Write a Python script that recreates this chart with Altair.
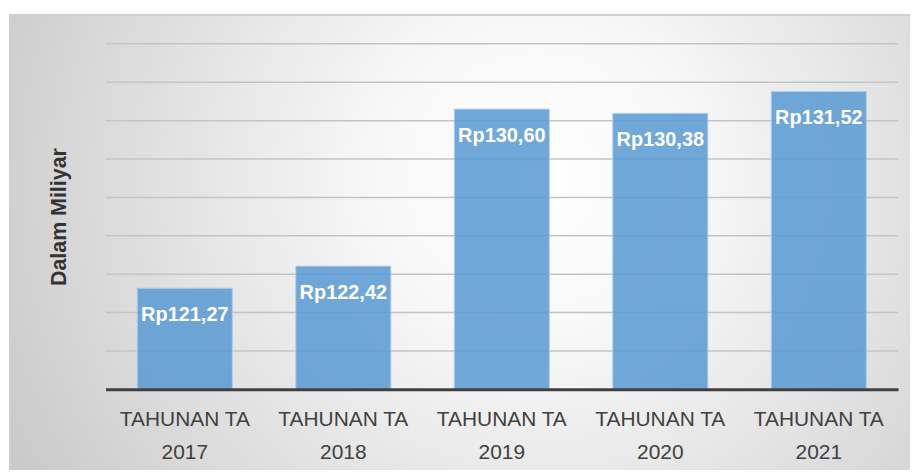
import altair as alt
import pandas as pd

years = ["2017", "2018", "2019", "2020", "2021"]
values = [121.27, 122.42, 130.60, 130.38, 131.52]
grid_values = [118, 120, 122, 124, 126, 128, 130, 132, 134]
y_min, y_max = 116, 134

df = pd.DataFrame({
    "cat": ["TAHUNAN TA " + y for y in years],
    "value": values,
    "base": [y_min] * len(values),
    "label": ["Rp" + f"{v:.2f}".replace(".", ",") for v in values],
})
grid_df = pd.DataFrame({"g": grid_values})

FONT = "Liberation Sans"
yscale = alt.Scale(domain=[y_min, y_max], zero=False, nice=False)
xscale = alt.Scale(paddingInner=0.4, paddingOuter=0.2)

yaxis = alt.Axis(
    title="Dalam Miliyar", labels=False, ticks=False, domain=False, grid=False,
    titleFont=FONT, titleFontSize=21.5, titleFontWeight="bold", titleColor="#333333",
    titlePadding=35, zindex=1,
)

bg = alt.Chart(pd.DataFrame({"d": [0]})).mark_rect(
    fill=alt.RadialGradient(
        gradient="radial",
        x1=0.57, y1=0.42, r1=0.0,
        x2=0.57, y2=0.42, r2=0.72,
        stops=[
            alt.GradientStop(offset=0, color="#ffffff"),
            alt.GradientStop(offset=0.25, color="#f7f7f7"),
            alt.GradientStop(offset=1, color="#c2c2c2"),
        ],
    ),
    stroke="#cfcfcf",
    strokeWidth=2,
).encode(
    x=alt.value(-96), x2=alt.value(830),
    y=alt.value(-29), y2=alt.value(450),
)

grid = alt.Chart(grid_df).mark_rule(color="#c4c4c4", strokeWidth=1.5).encode(
    y=alt.Y("g:Q", scale=yscale, axis=yaxis),
)

bars = alt.Chart(df).mark_bar(
    color="#5b9bd5", opacity=0.86, stroke="#a9cbeb", strokeWidth=1,
).encode(
    x=alt.X("cat:N", scale=xscale, sort=None, axis=alt.Axis(
        title=None, ticks=False, domainColor="#404040", domainWidth=3,
        labelExpr="[slice(datum.label, 0, 10), slice(datum.label, 11)]",
        labelFont=FONT, labelFontSize=21, labelColor="#404040",
        labelLineHeight=33, labelPadding=19, labelAngle=0, zindex=1,
    )),
    y=alt.Y("value:Q", scale=yscale, axis=yaxis),
    y2="base:Q",
)

text = alt.Chart(df).mark_text(
    color="white", font=FONT, fontSize=20, fontWeight="bold",
    baseline="middle", align="center", dy=27,
).encode(
    x=alt.X("cat:N", scale=xscale, sort=None),
    y=alt.Y("value:Q", scale=yscale),
    text="label:N",
)

chart = alt.layer(bg, grid, bars, text).properties(
    width=796, height=347,
    autosize=alt.AutoSizeParams(type="none"),
    padding={"left": 98, "top": 35, "right": 12, "bottom": 80},
    background="white",
).configure_view(stroke=None)

chart.save("out.html", embed_options={"renderer": "svg", "actions": False})
